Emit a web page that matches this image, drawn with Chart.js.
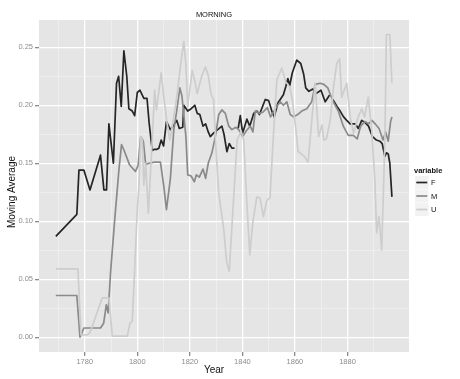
<!DOCTYPE html>
<html>
<head>
<meta charset="utf-8">
<script src="https://cdn.jsdelivr.net/npm/chart.js@4/dist/chart.umd.min.js"></script>
<style>
html,body{margin:0;padding:0;background:#fff;}
#wrap{width:460px;height:379px;position:relative;}
</style>
</head>
<body>
<div id="wrap"><canvas id="c"></canvas></div>
<script>
// ---- data ----
const seriesNames = ['F', 'M', 'U'];
const fYears  = [1769,1777,1777.8,1779.7,1782,1786,1787.3,1788.3,1789.2,1790.9,1792.1,1792.9,1793.9,1794.9,1796,1796.8,1798.1,1799,1800,1801,1802.5,1803.7,1804.5,1805.7,1806.5,1807.5,1808.2,1809.1,1810,1811.1,1812.6,1813.6,1815,1816,1817.3,1817.7,1819.2,1820.5,1821.9,1822.8,1823.8,1825,1826,1827,1827.8,1829,1830.6,1832.2,1833,1834.1,1835,1836,1837,1837.7,1838.4,1839.2,1840.1,1841.7,1842.8,1844.3,1845.5,1846.5,1848.7,1850,1851.2,1852.1,1853.5,1855.6,1856.5,1857.3,1858,1859,1860.7,1862.2,1863.3,1864.1,1865.3,1866.8,1868,1869.9,1871.5,1872.4,1873.2,1873.8,1874.4,1876,1877.2,1878.5,1879.7,1881,1883,1884.1,1885.4,1886.7,1888,1889.5,1891,1892.3,1893.2,1894.2,1894.8,1895.5,1896.1,1896.9];
const fValues = [0.087,0.106,0.144,0.144,0.127,0.157,0.127,0.127,0.184,0.150,0.219,0.225,0.199,0.247,0.225,0.197,0.195,0.191,0.211,0.213,0.206,0.206,0.185,0.161,0.162,0.162,0.163,0.170,0.165,0.186,0.179,0.182,0.187,0.180,0.181,0.200,0.195,0.197,0.200,0.193,0.192,0.182,0.184,0.177,0.173,0.176,0.179,0.182,0.175,0.160,0.167,0.163,0.163,null,0.180,0.191,0.176,0.188,0.182,0.193,0.195,0.192,0.205,0.204,0.195,0.190,0.202,0.209,0.216,0.223,0.217,0.228,0.239,0.236,0.227,0.215,0.212,0.214,0.210,0.213,0.203,0.206,0.209,null,0.205,0.199,0.195,0.190,0.187,0.184,0.184,0.180,0.187,0.185,0.182,0.173,0.170,0.169,0.167,0.156,0.159,0.158,0.150,0.121];

const mYears  = [1769,1777,1778.2,1779.7,1786,1787.2,1788.2,1788.9,1789.9,1791.4,1793,1794,1795,1797,1797.7,1799.3,1800.3,1801.3,1802.3,1803.2,1804.5,1806.5,1808.8,1810.1,1811.1,1812.6,1813.9,1815,1816.2,1817,1818.5,1819.2,1820.5,1821.7,1822.5,1823.6,1825,1826,1827,1828.4,1829.7,1831,1832.2,1833.5,1834.8,1836,1837.5,1838.6,1840.1,1841.5,1843,1844,1844.9,1846.5,1847.8,1849.5,1850.7,1853.1,1854.4,1855.6,1856.9,1858.2,1859.5,1861,1862.6,1864.5,1866.4,1867.7,1869.6,1871,1872.5,1873.5,1874.6,1876.5,1878.4,1880.3,1882.2,1883.7,1885,1886.6,1888,1889.3,1890.5,1892,1893.5,1894.5,1895.5,1896.4,1896.9];
const mValues = [0.036,0.036,0.000,0.008,0.008,0.012,0.028,0.021,0.058,0.101,0.144,0.166,0.161,0.149,0.147,0.143,0.148,0.173,0.169,0.149,0.150,0.151,0.151,0.130,0.110,0.137,0.179,0.195,0.215,0.208,0.173,0.140,0.139,0.134,0.140,0.138,0.145,0.137,0.150,0.159,0.173,0.192,0.196,0.193,0.182,0.179,0.181,0.179,0.173,0.178,0.182,0.177,0.195,0.193,0.194,0.198,0.190,0.199,0.203,0.200,0.203,0.192,0.190,0.192,0.195,0.197,0.203,0.218,0.219,0.218,0.215,0.209,0.203,0.195,0.182,0.174,0.174,0.171,0.182,0.186,0.184,0.187,0.184,0.180,0.170,0.177,0.169,0.186,0.190];

const uYears  = [1769,1777.4,1778.6,1781,1782,1784.2,1786.7,1789.2,1790.5,1796.2,1797.2,1798.1,1799,1800,1800.6,1801.3,1801.9,1802.5,1803.2,1804.2,1805.3,1806.6,1807.3,1809.1,1810.2,1811.3,1812.4,1813.9,1815.2,1816.5,1817.7,1818.5,1819.2,1820.9,1821.8,1822.8,1824.5,1825.9,1827,1828,1829,1830,1831,1832.9,1834,1835,1836,1836.7,1838,1839.5,1840.5,1841.6,1842.8,1844,1845.5,1846.7,1848,1849.3,1850.5,1851.7,1853.1,1855,1856.5,1858,1859,1860.3,1861.2,1862,1863.5,1865,1866.4,1867.7,1869,1870.3,1871,1872,1873.4,1874.7,1875.9,1877,1877.8,1879.7,1881,1882.3,1884.1,1885.4,1886.5,1887.9,1889.2,1890.4,1891.1,1892,1893,1894.2,1894.8,1896.1,1896.9];
const uValues = [0.059,0.059,0.002,0.002,0.004,0.018,0.034,0.034,0.001,0.001,0.012,0.014,0.058,0.110,0.130,0.173,0.170,0.131,0.150,0.107,0.153,0.213,0.196,0.228,0.205,0.185,0.170,0.190,0.210,0.235,0.255,0.235,0.199,0.230,0.222,0.210,0.225,0.233,0.226,0.210,0.205,0.160,0.124,0.093,0.065,0.057,0.095,0.121,0.170,0.178,0.170,0.120,0.071,0.100,0.121,0.120,0.104,0.118,0.120,0.170,0.222,0.232,0.220,0.216,0.205,0.180,0.160,0.159,0.156,0.151,0.187,0.219,0.173,0.183,0.170,0.171,0.187,0.216,0.236,0.240,0.207,0.219,0.190,0.176,0.190,0.197,0.190,0.207,0.179,0.136,0.090,0.104,0.075,0.167,0.261,0.261,0.219];

const xMajorTicks = [1780, 1800, 1820, 1840, 1860, 1880];
const xAllTicks   = [1770, 1780, 1790, 1800, 1810, 1820, 1830, 1840, 1850, 1860, 1870, 1880, 1890];
const yMajorTicks = [0.00, 0.05, 0.10, 0.15, 0.20, 0.25];
const yAllTicks   = [0.00, 0.025, 0.05, 0.075, 0.10, 0.125, 0.15, 0.175, 0.20, 0.225, 0.25];

const chartTitle = 'MORNING';
const xTitle = 'Year';
const yTitle = 'Moving Average';
const legendTitle = 'variable';

// ---- styling ----
const colors = ['#252525', '#8a8a8a', '#cdcdcd'];
const FONT = "'Liberation Sans', Arial, Helvetica, sans-serif";

function pts(xs, ys){ return xs.map((x, i) => ({x: x, y: ys[i]})); }
const isMajor = (v, list) => list.some(m => Math.abs(m - v) < 1e-6);

const decor = {
  id: 'decor',
  beforeDraw(chart){
    const {ctx, chartArea: a} = chart;
    ctx.save();
    ctx.fillStyle = '#ffffff';
    ctx.fillRect(0, 0, chart.width, chart.height);
    ctx.fillStyle = '#e5e5e5';
    ctx.fillRect(a.left, a.top, a.right - a.left, a.bottom - a.top);
    ctx.restore();
  },
  afterDraw(chart){
    const ctx = chart.ctx;
    ctx.save();
    ctx.fillStyle = '#111';
    ctx.textAlign = 'center';
    ctx.textBaseline = 'middle';
    ctx.font = '7.5px ' + FONT;
    ctx.fillText(chartTitle, 214, 15);
    ctx.font = '10px ' + FONT;
    ctx.fillText(xTitle, 214, 370);
    ctx.save();
    ctx.translate(12.5, 192);
    ctx.rotate(-Math.PI / 2);
    ctx.fillText(yTitle, 0, 0);
    ctx.restore();
    // legend
    ctx.textAlign = 'left';
    ctx.font = 'bold 7.5px ' + FONT;
    ctx.fillText(legendTitle, 414, 171);
    const ys = [182.5, 196, 209.5];
    seriesNames.forEach((n, i) => {
      ctx.fillStyle = '#f2f2f2';
      ctx.fillRect(415, ys[i] - 6.5, 13.5, 13);
      ctx.strokeStyle = colors[i];
      ctx.lineWidth = 1.7;
      ctx.beginPath();
      ctx.moveTo(416.3, ys[i]);
      ctx.lineTo(427.3, ys[i]);
      ctx.stroke();
      ctx.fillStyle = '#111';
      ctx.font = '7.5px ' + FONT;
      ctx.fillText(n, 431, ys[i] + 0.5);
    });
    ctx.restore();
  }
};

const datasets = [
  {label: 'F', data: pts(fYears, fValues), order: 3},
  {label: 'M', data: pts(mYears, mValues), order: 2},
  {label: 'U', data: pts(uYears, uValues), order: 1}
].map((d, i) => Object.assign(d, {
  borderColor: colors[i], backgroundColor: colors[i], borderWidth: 1.7,
  pointRadius: 0, tension: 0, spanGaps: false, fill: false,
  borderJoinStyle: 'round'
}));

new Chart(document.getElementById('c'), {
  type: 'line',
  data: {datasets: datasets},
  plugins: [decor],
  options: {
    responsive: true,
    maintainAspectRatio: false,
    animation: false,
    layout: {padding: {top: 20, right: 51, left: 0, bottom: 0}},
    plugins: {legend: {display: false}, title: {display: false}, tooltip: {enabled: false}},
    scales: {
      x: {
        type: 'linear', min: 1762.6, max: 1903.4,
        afterBuildTicks: s => { s.ticks = xAllTicks.map(v => ({value: v})); },
        afterFit: s => { s.height = 27; },
        border: {display: false},
        grid: {
          color: c => isMajor(c.tick.value, xMajorTicks) ? '#ffffff' : '#f2f2f2',
          lineWidth: c => isMajor(c.tick.value, xMajorTicks) ? 1.3 : 0.7,
          tickColor: c => isMajor(c.tick.value, xMajorTicks) ? '#8a8a8a' : 'rgba(0,0,0,0)',
          tickLength: 4, drawTicks: true
        },
        ticks: {
          autoSkip: false, maxRotation: 0, padding: 1,
          color: '#8c8c8c', font: {family: FONT, size: 7.5},
          callback: v => isMajor(v, xMajorTicks) ? String(v) : ''
        }
      },
      y: {
        type: 'linear', min: -0.0127, max: 0.2735,
        afterBuildTicks: s => { s.ticks = yAllTicks.map(v => ({value: v})); },
        afterFit: s => { s.width = 39; },
        border: {display: false},
        grid: {
          color: c => isMajor(c.tick.value, yMajorTicks) ? '#ffffff' : '#f2f2f2',
          lineWidth: c => isMajor(c.tick.value, yMajorTicks) ? 1.3 : 0.7,
          tickColor: c => isMajor(c.tick.value, yMajorTicks) ? '#8a8a8a' : 'rgba(0,0,0,0)',
          tickLength: 4, drawTicks: true
        },
        ticks: {
          autoSkip: false, padding: 2,
          color: '#8c8c8c', font: {family: FONT, size: 7.5},
          callback: v => isMajor(v, yMajorTicks) ? v.toFixed(2) : ''
        }
      }
    }
  }
});
</script>
</body>
</html>
